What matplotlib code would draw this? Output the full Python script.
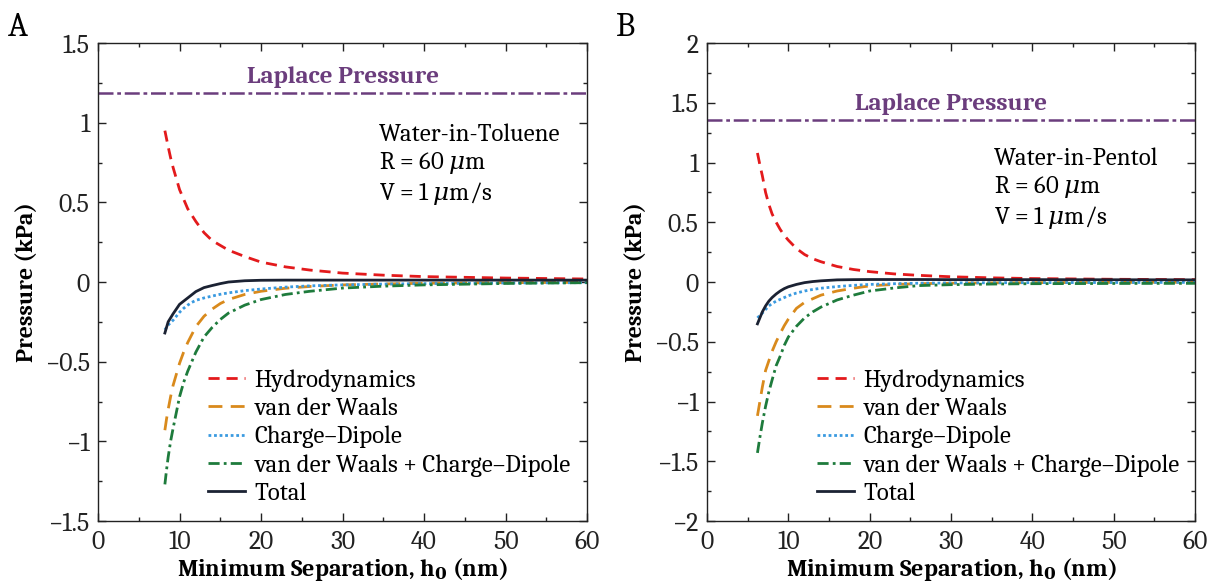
import matplotlib
matplotlib.use("Agg")
import matplotlib.pyplot as plt
from matplotlib.ticker import MultipleLocator

plt.rcParams['font.family'] = ['Caladea', 'Noto Serif', 'DejaVu Serif']
plt.rcParams['mathtext.fontset'] = 'dejavuserif'

# ---------------- Data ----------------
# Panel A: Water-in-Toluene
hA = [8.2, 8.4, 8.6, 8.9, 9.2, 9.6, 10, 10.5, 11, 11.5, 12, 13, 14, 15, 16, 18, 20,
      23, 26, 30, 35, 40, 50, 60]
hydroA = [0.95, 0.90, 0.85, 0.78, 0.72, 0.65, 0.58, 0.52, 0.46, 0.42, 0.38, 0.31,
          0.26, 0.23, 0.20, 0.16, 0.125, 0.095, 0.075, 0.056, 0.043, 0.034, 0.025,
          0.019]
vdwA = [-0.93, -0.86, -0.80, -0.72, -0.65, -0.58, -0.51, -0.44, -0.38, -0.33, -0.28,
        -0.215, -0.17, -0.135, -0.11, -0.078, -0.058, -0.039, -0.028, -0.018, -0.012,
        -0.008, -0.004, -0.002]
cdA = [-0.30, -0.285, -0.27, -0.255, -0.24, -0.215, -0.19, -0.165, -0.145, -0.128,
       -0.115, -0.10, -0.088, -0.077, -0.068, -0.054, -0.044, -0.032, -0.024, -0.018,
       -0.013, -0.010, -0.006, -0.004]
vdwcdA = [-1.27, -1.18, -1.10, -1.00, -0.92, -0.82, -0.72, -0.63, -0.56, -0.50,
          -0.44, -0.345, -0.285, -0.235, -0.195, -0.145, -0.11, -0.078, -0.058,
          -0.038, -0.026, -0.018, -0.009, -0.004]
totalA = [-0.32, -0.285, -0.25, -0.225, -0.20, -0.17, -0.14, -0.12, -0.10, -0.08,
          -0.06, -0.035, -0.022, -0.01, 0.0, 0.008, 0.011, 0.012, 0.012, 0.012, 0.012,
          0.012, 0.012, 0.012]
laplaceA = 1.185

# Panel B: Water-in-Pentol
hB = [6.2, 6.5, 6.8, 7.2, 7.6, 8, 8.5, 9, 9.5, 10, 11, 12, 13, 14, 16, 18, 20, 23,
      26, 30, 35, 40, 50, 60]
hydroB = [1.08, 0.98, 0.89, 0.75, 0.65, 0.57, 0.50, 0.44, 0.39, 0.35, 0.28, 0.23,
          0.195, 0.17, 0.13, 0.105, 0.087, 0.068, 0.056, 0.044, 0.035, 0.029, 0.023,
          0.02]
vdwB = [-1.12, -1.0, -0.88, -0.74, -0.66, -0.58, -0.50, -0.43, -0.365, -0.31, -0.22,
        -0.17, -0.14, -0.11, -0.075, -0.052, -0.032, -0.02, -0.014, -0.01, -0.007,
        -0.005, -0.003, -0.002]
cdB = [-0.30, -0.28, -0.26, -0.23, -0.20, -0.18, -0.16, -0.145, -0.13, -0.115,
       -0.092, -0.075, -0.062, -0.052, -0.038, -0.028, -0.02, -0.014, -0.01, -0.008,
       -0.006, -0.005, -0.004, -0.003]
vdwcdB = [-1.43, -1.30, -1.18, -1.04, -0.92, -0.82, -0.70, -0.62, -0.53, -0.46,
          -0.37, -0.30, -0.25, -0.21, -0.15, -0.11, -0.075, -0.05, -0.03, -0.022,
          -0.017, -0.014, -0.012, -0.011]
totalB = [-0.35, -0.30, -0.25, -0.20, -0.16, -0.13, -0.10, -0.075, -0.055, -0.04,
          -0.02, -0.005, 0.004, 0.01, 0.018, 0.02, 0.021, 0.021, 0.021, 0.02, 0.02,
          0.02, 0.019, 0.018]
laplaceB = 1.36

labels = ["Hydrodynamics", "van der Waals", "Charge\u2013Dipole",
          "van der Waals + Charge\u2013Dipole", "Total"]

# ---------------- Styles ----------------
colors = ["#E31A1C", "#D98A1C", "#3A9AE0", "#1E7B3C", "#1B2233"]
styles = [(0, (4, 2.5)), (0, (5, 3)), (0, (1, 1)), (0, (4, 1.5, 1, 1.5)), "-"]
lap_color = "#6B3D7D"

fig = plt.figure(figsize=(12.09, 5.87), dpi=100)
axA = fig.add_axes([0.0811, 0.1124, 0.4045, 0.8143])
axB = fig.add_axes([0.5848, 0.1124, 0.4036, 0.8143])

def fmt(v):
    return ("%g" % v).replace("-", "\u2212")

def draw(ax, h, series, lap, ylim, ymaj, annot):
    for y, c, ls, lab in zip(series, colors, styles, labels):
        ax.plot(h, y, color=c, linestyle=ls, linewidth=2.0, label=lab)
    ax.axhline(lap, color=lap_color, linestyle=(0, (6, 1.5, 1.5, 1.5)), linewidth=1.8)
    ax.text(30, lap + 0.03 * (ylim[1] - ylim[0]) / 3, "Laplace Pressure",
            color=lap_color, fontweight='bold', fontsize=18, ha='center', va='bottom')
    ax.set_xlim(0, 60)
    ax.xaxis.set_major_locator(MultipleLocator(10))
    ax.xaxis.set_minor_locator(MultipleLocator(5))
    ticks = [ylim[0] + i * ymaj for i in range(int(round((ylim[1] - ylim[0]) / ymaj)) + 1)]
    ax.set_yticks(ticks)
    ax.set_yticklabels([fmt(v) for v in ticks])
    ax.yaxis.set_minor_locator(MultipleLocator(ymaj / 2))
    ax.set_ylim(*ylim)
    ax.tick_params(which='both', direction='in', top=True, right=True,
                   labelsize=18.5, width=1.0, colors='#222222')
    ax.tick_params(which='major', length=6, pad=6)
    ax.tick_params(which='minor', length=3)
    for s in ax.spines.values():
        s.set_linewidth(1.0)
        s.set_color('#222222')
    ax.set_xlabel(r"Minimum Separation, h$_\mathbf{0}$ (nm)", fontsize=17.5,
                  fontweight='bold', labelpad=1)
    ax.set_ylabel("Pressure (kPa)", fontsize=17, fontweight='bold', labelpad=5)
    ax.text(annot[0], annot[1], annot[2], transform=ax.transAxes, fontsize=17.8,
            ha='left', va='top', linespacing=1.2)
    ax.legend(loc='upper left', bbox_to_anchor=(0.225, 0.318), frameon=False,
              fontsize=17.8, handlelength=1.5, handletextpad=0.38,
              labelspacing=0.23, borderpad=0, borderaxespad=0)

draw(axA, hA, [hydroA, vdwA, cdA, vdwcdA, totalA], laplaceA, (-1.5, 1.5), 0.5,
     (0.575, 0.832, "Water-in-Toluene\nR = 60 $\\mu$m\nV = 1 $\\mu$m/s"))
draw(axB, hB, [hydroB, vdwB, cdB, vdwcdB, totalB], laplaceB, (-2, 2), 0.5,
     (0.588, 0.782, "Water-in-Pentol\nR = 60 $\\mu$m\nV = 1 $\\mu$m/s"))

fig.text(0.007, 0.953, "A", fontsize=24, ha='left', va='center')
fig.text(0.509, 0.953, "B", fontsize=24, ha='left', va='center')

fig.savefig("out.png", dpi=100)
